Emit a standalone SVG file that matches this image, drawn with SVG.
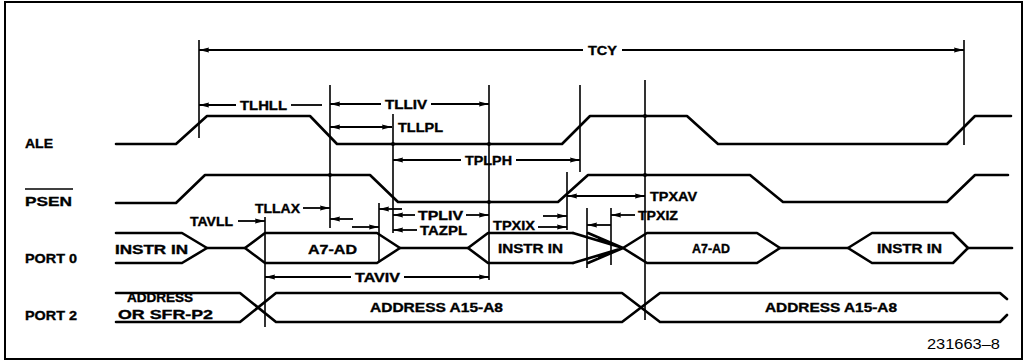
<svg xmlns="http://www.w3.org/2000/svg" width="1032" height="362" viewBox="0 0 1032 362">
<style>
.sig{fill:none;stroke:#000;stroke-width:2.6;stroke-linejoin:round;stroke-linecap:round}
.ref{fill:none;stroke:#000;stroke-width:1.6}
.dim{fill:none;stroke:#000;stroke-width:1.8}
.s{marker-start:url(#ah)}
.e{marker-end:url(#ah)}
.lbl{font-family:"Liberation Sans",Arial,sans-serif;font-weight:bold;font-size:12.5px;fill:#000;stroke:#000;stroke-width:0.35}
.sname{font-family:"Liberation Sans",Arial,sans-serif;font-weight:bold;font-size:13px;fill:#000;stroke:#000;stroke-width:0.35}
.num{font-family:"Liberation Sans",Arial,sans-serif;font-size:14px;fill:#000}
</style>
<defs>
<marker id="ah" viewBox="0 0 10 6" refX="10" refY="3" markerWidth="10" markerHeight="6" markerUnits="userSpaceOnUse" orient="auto-start-reverse">
<path d="M0,0.6 L10,3 L0,5.4 Q1.5,3 0,0.6Z" fill="#000"/>
</marker>
</defs>
<rect width="1032" height="362" fill="#fff"/>
<rect id="border" x="5" y="2" width="1017" height="357" fill="none" stroke="#000" stroke-width="2"/>

<g id="sig-ale">
<text class="sname" x="25" y="148" textLength="28" lengthAdjust="spacingAndGlyphs">ALE</text>
<path class="sig" d="M116,144 H176 L207,116 H310 L337,144 H562 L590,116 H687 L718,144 H947 L975,116 H1011"/>
</g>

<g id="sig-psen">
<text class="sname" x="25" y="206" textLength="47" lengthAdjust="spacingAndGlyphs">PSEN</text>
<line x1="25" y1="189" x2="73" y2="189" stroke="#000" stroke-width="1.6"/>
<path class="sig" d="M116,203 H176 L205,175 H370 L398,202 H558 L588,175 H750 L783,202 H947 L975,175 H1008"/>
</g>

<g id="sig-port0">
<text class="sname" x="25" y="263" textLength="52" lengthAdjust="spacingAndGlyphs">PORT 0</text>
<path class="sig" d="M116,233 H182 L207,248 L182,263 H116"/>
<path class="sig" d="M207,248 H245"/>
<path class="sig" d="M245,248 L265,233 H377 L400,248 L377,263 H265 Z"/>
<path class="sig" d="M400,248 H468"/>
<path class="sig" d="M573,233 H488 L468,248 L488,263 H573"/>
<path class="sig" d="M573,233 L623,248 L573,263 M588,233 L623,248 L588,263 M599,238 L623,248 L599,258"/>
<path class="sig" d="M757,233 H647 L623,248 L647,263 H757 L780,248 Z"/>
<path class="sig" d="M780,248 H848"/>
<path class="sig" d="M848,248 L872,233 H953 L968,248 L953,263 H872 Z"/>
<path class="sig" d="M968,248 H1012"/>
<text class="lbl" x="115" y="254" textLength="73" lengthAdjust="spacingAndGlyphs">INSTR IN</text>
<text class="lbl" x="308" y="254" textLength="49" lengthAdjust="spacingAndGlyphs">A7-AD</text>
<text class="lbl" x="498" y="253" textLength="65" lengthAdjust="spacingAndGlyphs">INSTR IN</text>
<text class="lbl" x="692" y="253" textLength="38" lengthAdjust="spacingAndGlyphs">A7-AD</text>
<text class="lbl" x="877" y="253" textLength="65" lengthAdjust="spacingAndGlyphs">INSTR IN</text>
</g>

<g id="sig-port2">
<text class="sname" x="25" y="320" textLength="52" lengthAdjust="spacingAndGlyphs">PORT 2</text>
<path class="sig" d="M116,293 H240 L276,322 H622 L660,293 H1000 L1007,299"/>
<path class="sig" d="M116,322 H240 L276,293 H622 L660,322 H1000 L1007,315"/>
<text class="lbl" x="127" y="302" textLength="66" lengthAdjust="spacingAndGlyphs">ADDRESS</text>
<text class="lbl" x="118" y="319" textLength="95" lengthAdjust="spacingAndGlyphs">OR SFR-P2</text>
<text class="lbl" x="370" y="312" textLength="133" lengthAdjust="spacingAndGlyphs">ADDRESS A15-A8</text>
<text class="lbl" x="765" y="312" textLength="132" lengthAdjust="spacingAndGlyphs">ADDRESS A15-A8</text>
</g>

<g id="connectors">
<path class="ref" d="M199,40 V138 M330,85 V228 M379,203 V262 M393,114 V233 M489,85 V280 M567,172 V230 M580,85 V172 M587,208 V268 M611,208 V265 M645,80 V320 M964,40 V145 M265,217 V327"/>
<g fill="#000">
<circle cx="393" cy="144" r="2"/>
<circle cx="489" cy="144" r="2"/>
<circle cx="330" cy="175" r="2"/>
<circle cx="489" cy="202" r="2"/>
<circle cx="645" cy="116" r="2"/>
<circle cx="645" cy="175" r="2"/>
</g>
<path class="dim s" d="M199,50 H583"/>
<path class="dim e" d="M622,50 H964"/>
<path class="dim s" d="M199,105 H236"/>
<path class="dim" d="M291,105 H322"/>
<path class="dim s" d="M330,104 H381"/>
<path class="dim e" d="M431,104 H489"/>
<path class="dim s e" d="M330,127 H392"/>
<path class="dim s" d="M393,160 H461"/>
<path class="dim e" d="M516,160 H580"/>
<path class="dim s e" d="M567,196 H645"/>
<path class="dim e" d="M303,208 H330"/>
<path class="dim s" d="M330,219 H353"/>
<path class="dim e" d="M352,227 H379"/>
<path class="dim s" d="M379,209 H402"/>
<path class="dim e" d="M238,221 H265"/>
<path class="dim s" d="M393,215 H415"/>
<path class="dim e" d="M466,215 H489"/>
<path class="dim s" d="M393,230 H417"/>
<path class="dim e" d="M538,227 H567"/>
<path class="dim e" d="M543,216 H567"/>
<path class="dim s" d="M587,225 H611"/>
<path class="dim s" d="M611,215 H635"/>
<path class="dim s" d="M265,277 H351"/>
<path class="dim e" d="M404,277 H489"/>
</g>

<g id="dim-labels">
<text class="lbl" x="588" y="55" textLength="29" lengthAdjust="spacingAndGlyphs">TCY</text>
<text class="lbl" x="240" y="110" textLength="47" lengthAdjust="spacingAndGlyphs">TLHLL</text>
<text class="lbl" x="385" y="109" textLength="42" lengthAdjust="spacingAndGlyphs">TLLIV</text>
<text class="lbl" x="398" y="132" textLength="45" lengthAdjust="spacingAndGlyphs">TLLPL</text>
<text class="lbl" x="465" y="165" textLength="47" lengthAdjust="spacingAndGlyphs">TPLPH</text>
<text class="lbl" x="650" y="201" textLength="47" lengthAdjust="spacingAndGlyphs">TPXAV</text>
<text class="lbl" x="638" y="220" textLength="40" lengthAdjust="spacingAndGlyphs">TPXIZ</text>
<text class="lbl" x="255" y="213" textLength="45" lengthAdjust="spacingAndGlyphs">TLLAX</text>
<text class="lbl" x="190" y="226" textLength="43" lengthAdjust="spacingAndGlyphs">TAVLL</text>
<text class="lbl" x="418" y="220" textLength="45" lengthAdjust="spacingAndGlyphs">TPLIV</text>
<text class="lbl" x="420" y="235" textLength="47" lengthAdjust="spacingAndGlyphs">TAZPL</text>
<text class="lbl" x="493" y="230" textLength="42" lengthAdjust="spacingAndGlyphs">TPXIX</text>
<text class="lbl" x="355" y="282" textLength="45" lengthAdjust="spacingAndGlyphs">TAVIV</text>
</g>

<text class="num" x="927" y="349" textLength="73" lengthAdjust="spacingAndGlyphs">231663–8</text>
</svg>
